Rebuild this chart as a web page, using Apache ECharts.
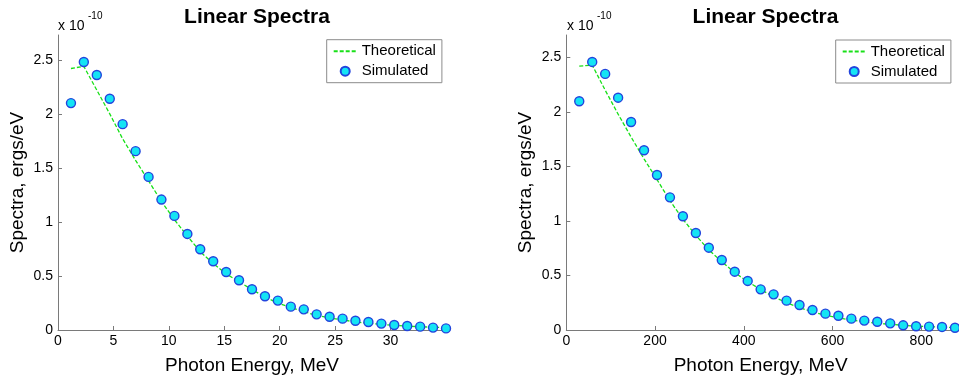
<!DOCTYPE html>
<html>
<head>
<meta charset="utf-8">
<script src="https://cdn.jsdelivr.net/npm/echarts@6/dist/echarts.min.js"></script>
<style>html,body{margin:0;padding:0;background:#fff;}#c{width:959px;height:381px;}</style>
</head>
<body>
<div id="c"></div>
<script>
// values in units of 1e-10 ergs/eV
const leftEnergy = [1.17, 2.33, 3.5, 4.67, 5.83, 7, 8.17, 9.33, 10.5, 11.67, 12.83, 14, 15.17, 16.33, 17.5, 18.67, 19.83, 21, 22.17, 23.33, 24.5, 25.67, 26.83, 28, 29.17, 30.33, 31.5, 32.67, 33.83, 35];
const leftSimulated = [2.10, 2.48, 2.36, 2.14, 1.905, 1.655, 1.417, 1.207, 1.056, 0.889, 0.747, 0.636, 0.537, 0.460, 0.377, 0.312, 0.272, 0.216, 0.191, 0.145, 0.123, 0.105, 0.086, 0.074, 0.059, 0.046, 0.037, 0.031, 0.022, 0.015];
const leftTheoretical = [2.42, 2.44, 2.22, 2.0, 1.77, 1.57, 1.38, 1.19, 1.02, 0.87, 0.725, 0.615, 0.52, 0.445, 0.375, 0.305, 0.25, 0.207, 0.17, 0.135, 0.112, 0.093, 0.075, 0.062, 0.052, 0.043, 0.036, 0.03, 0.026, 0.021];

const rightEnergy = [29.2, 58.4, 87.6, 116.8, 146, 175.2, 204.4, 233.6, 262.8, 292, 321.2, 350.4, 379.6, 408.8, 438, 467.2, 496.4, 525.6, 554.8, 584, 613.2, 642.4, 671.6, 700.8, 730, 759.2, 788.4, 817.6, 846.8, 876];
const rightSimulated = [2.098, 2.459, 2.349, 2.131, 1.908, 1.649, 1.422, 1.217, 1.043, 0.890, 0.755, 0.642, 0.535, 0.450, 0.373, 0.327, 0.269, 0.229, 0.183, 0.150, 0.131, 0.104, 0.086, 0.076, 0.061, 0.043, 0.034, 0.031, 0.028, 0.021];
const rightTheoretical = [2.42, 2.43, 2.2, 1.98, 1.77, 1.57, 1.38, 1.186, 1.016, 0.869, 0.734, 0.627, 0.526, 0.443, 0.372, 0.305, 0.25, 0.205, 0.168, 0.135, 0.111, 0.092, 0.075, 0.062, 0.052, 0.043, 0.036, 0.03, 0.026, 0.021];

const yTicks = [0, 0.5, 1, 1.5, 2, 2.5];
const leftXTicks = [0, 5, 10, 15, 20, 25, 30];
const rightXTicks = [0, 200, 400, 600, 800];

const FONT = "'Liberation Sans', Arial, Helvetica, sans-serif";
const AXIS_COLOR = '#7a7a7a';

function pairs(xs, ys) { return xs.map((x, i) => [x, ys[i]]); }

function xAxisCfg(gridIndex, max, ticks) {
  return {
    type: 'value', gridIndex, min: 0, max,
    name: 'Photon Energy, MeV', nameLocation: 'middle', nameGap: 26,
    nameTextStyle: { fontFamily: FONT, fontSize: 19, color: '#000' },
    axisLine: { show: true, lineStyle: { color: AXIS_COLOR, width: 1 } },
    axisTick: { show: true, inside: true, length: 4, customValues: ticks, lineStyle: { color: AXIS_COLOR } },
    axisLabel: { customValues: ticks, fontFamily: FONT, fontSize: 14, color: '#000', margin: 4 },
    splitLine: { show: false }
  };
}
function yAxisCfg(gridIndex, max) {
  return {
    type: 'value', gridIndex, min: 0, max,
    name: 'Spectra, ergs/eV', nameLocation: 'middle', nameGap: 31,
    nameTextStyle: { fontFamily: FONT, fontSize: 19, color: '#000' },
    axisLine: { show: true, lineStyle: { color: AXIS_COLOR, width: 1 } },
    axisTick: { show: true, inside: true, length: 4, customValues: yTicks, lineStyle: { color: AXIS_COLOR } },
    axisLabel: { customValues: yTicks, fontFamily: FONT, fontSize: 14, color: '#000', margin: 5 },
    splitLine: { show: false }
  };
}
function lineSeries(idx, data) {
  return {
    name: 'Theoretical', type: 'line', xAxisIndex: idx, yAxisIndex: idx,
    data, symbol: 'none', smooth: false, z: 2,
    lineStyle: { color: '#18e018', width: 1.3, type: [4, 2] },
    itemStyle: { color: '#18e018' }
  };
}
function scatterSeries(idx, data) {
  return {
    name: 'Simulated', type: 'scatter', xAxisIndex: idx, yAxisIndex: idx,
    data, symbol: 'circle', symbolSize: 9, z: 3,
    itemStyle: { color: '#14e4f4', borderColor: '#2244dd', borderWidth: 1.4, opacity: 1 }
  };
}
function legendCfg(left, top) {
  return {
    left, top, orient: 'vertical',
    data: [
      { name: 'Theoretical', itemStyle: { opacity: 0, borderWidth: 0 } },
      'Simulated'
    ],
    padding: [3, 6, 3, 6], itemGap: 3, itemWidth: 23, itemHeight: 9,
    borderColor: '#8c8c8c', borderWidth: 1, backgroundColor: '#fff',
    textStyle: { fontFamily: FONT, fontSize: 15, color: '#000', lineHeight: 17 }
  };
}

const chart = echarts.init(document.getElementById('c'), null, { renderer: 'canvas' });
chart.setOption({
  animation: false,
  backgroundColor: '#fff',
  title: [
    { text: 'Linear Spectra', left: 252, top: 2, textAlign: 'center',
      textStyle: { fontFamily: FONT, fontSize: 21, fontWeight: 'bold', color: '#000' } },
    { text: 'Linear Spectra', left: 760.5, top: 2, textAlign: 'center',
      textStyle: { fontFamily: FONT, fontSize: 21, fontWeight: 'bold', color: '#000' } }
  ],
  grid: [
    { left: 58, top: 35, width: 388, height: 295 },
    { left: 566.3, top: 35, width: 388.7, height: 295 }
  ],
  xAxis: [xAxisCfg(0, 35, leftXTicks), xAxisCfg(1, 876, rightXTicks)],
  yAxis: [yAxisCfg(0, 2.73), yAxisCfg(1, 2.706)],
  legend: [legendCfg(326.7, 39.7), legendCfg(835.7, 40)],
  series: [
    lineSeries(0, pairs(leftEnergy, leftTheoretical)),
    scatterSeries(0, pairs(leftEnergy, leftSimulated)),
    lineSeries(1, pairs(rightEnergy, rightTheoretical)),
    scatterSeries(1, pairs(rightEnergy, rightSimulated))
  ],
  graphic: [
    { type: 'text', left: 58, top: 19, style: { text: 'x 10', font: "14px 'Liberation Sans', Arial, sans-serif", fill: '#000' } },
    { type: 'text', left: 88, top: 11, style: { text: '-10', font: "10px 'Liberation Sans', Arial, sans-serif", fill: '#000' } },
    { type: 'text', left: 567, top: 19, style: { text: 'x 10', font: "14px 'Liberation Sans', Arial, sans-serif", fill: '#000' } },
    { type: 'text', left: 597, top: 11, style: { text: '-10', font: "10px 'Liberation Sans', Arial, sans-serif", fill: '#000' } }
  ]
});
</script>
</body>
</html>
